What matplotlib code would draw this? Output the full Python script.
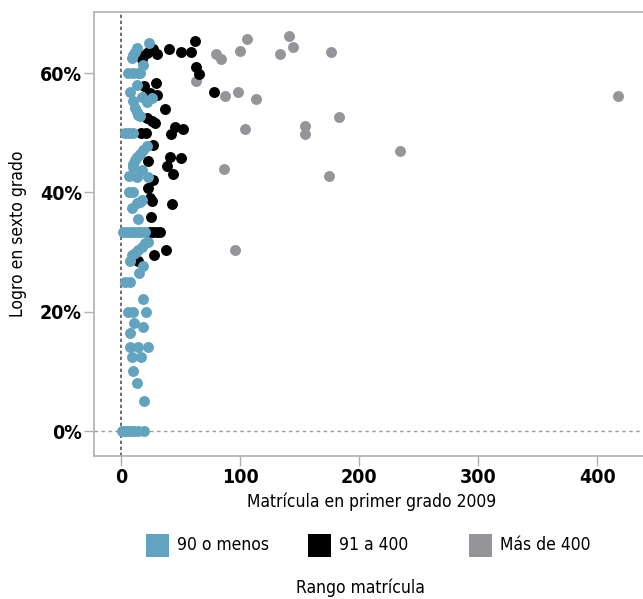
import matplotlib
matplotlib.use("Agg")
import matplotlib.pyplot as plt
from matplotlib.patches import Rectangle
from matplotlib.ticker import FuncFormatter

plt.rcParams['font.family'] = ['DejaVu Sans']
plt.rcParams['font.stretch'] = 'condensed'

# ---------------- data ----------------
categories = ["90 o menos", "91 a 400", "Más de 400"]
colors = ["#62A4BF", "#000000", "#939598"]

blue_x = [23.8, 13.7, 11.8, 10.3, 9.0, 18.8,
          6.2, 10.3, 14.5, 16.0,
          13.2, 7.6, 17.4, 25.8, 21.6, 9.8, 11.8, 13.2, 14.5, 16.0,
          3.4, 7.0, 10.3,
          21.6, 18.8, 16.0, 13.2, 11.8, 10.3, 9.8, 17.4,
          7.0, 13.7, 22.4,
          7.0, 10.3, 13.2, 17.4, 16.0, 9.0, 14.0,
          2.0, 5.0, 8.0, 11.0, 14.0, 17.0, 20.0,
          23.0, 20.2, 17.4, 14.5, 11.8, 9.0, 7.6, 18.8, 15.4,
          3.4, 7.6,
          18.2, 6.2, 10.3, 21.0, 11.2, 18.2, 7.6,
          7.6, 14.3, 22.4, 9.0, 17.1, 9.8, 13.2, 19.6,
          1.0, 3.0, 5.0, 7.0, 9.0, 11.0, 14.0, 19.6]
blue_y = [65.0, 64.2, 63.6, 63.0, 62.5, 61.4,
          60.0, 60.0, 60.0, 60.0,
          58.0, 56.9, 56.0, 55.8, 55.2, 55.3, 54.1, 53.5, 53.0, 52.8,
          50.0, 50.0, 50.0,
          47.7, 47.1, 46.5, 46.0, 45.4, 44.8, 44.3, 43.8,
          42.7, 42.5, 42.5,
          40.0, 40.0, 38.3, 38.7, 38.4, 37.3, 35.5,
          33.3, 33.3, 33.3, 33.3, 33.3, 33.3, 33.3,
          31.7, 31.5, 30.9, 30.3, 29.8, 29.5, 28.5, 27.7, 26.5,
          25.0, 25.0,
          22.1, 20.0, 20.0, 20.0, 18.1, 17.5, 16.4,
          14.0, 14.0, 14.0, 12.4, 12.4, 10.0, 8.0, 5.0,
          0.0, 0.0, 0.0, 0.0, 0.0, 0.0, 0.0, 0.0]

black_x = [61.9, 40.0, 50.7, 59.0, 30.5,
           26.5, 24.3, 21.5, 18.8, 17.4,
           62.7, 65.7, 29.1, 19.3, 30.5, 24.3, 22.6, 37.2, 78.3,
           21.5, 25.8, 28.8, 45.3, 52.3, 42.2, 16.8, 20.7,
           27.1, 22.4, 41.1, 50.6, 38.9, 43.9, 26.6, 22.4, 24.3, 25.8, 42.6,
           25.2, 24.0, 27.0, 30.0, 32.5, 37.5, 27.7, 14.0]
black_y = [65.4, 64.0, 63.6, 63.6, 63.2,
           64.0, 63.8, 63.4, 62.9, 62.4,
           61.0, 59.9, 58.3, 57.8, 56.4, 56.7, 56.2, 54.0, 56.9,
           52.4, 52.0, 51.6, 50.9, 50.6, 49.8, 50.0, 50.0,
           47.9, 45.3, 46.0, 45.7, 44.4, 43.1, 42.0, 40.7, 39.1, 38.6, 38.0,
           35.8, 33.3, 33.3, 33.3, 33.3, 30.3, 29.5, 28.5]

gray_x = [105.5, 140.8, 144.7, 133.5, 99.9, 79.5, 83.7, 63.0, 87.6, 98.5, 113.6,
          104.1, 176.0, 182.8, 154.2, 154.2, 86.2, 174.6, 95.7, 417.0, 234.5]
gray_y = [65.7, 66.2, 64.3, 63.2, 63.7, 63.2, 62.3, 58.6, 56.1, 56.9, 55.6,
          50.7, 63.5, 52.6, 51.2, 49.8, 43.9, 42.8, 30.3, 56.1, 46.9]

x_ticks = [0, 100, 200, 300, 400]
y_ticks = [0, 20, 40, 60]

# ---------------- figure ----------------
W, H = 643, 599
fig = plt.figure(figsize=(W / 100, H / 100), dpi=100)
ax = fig.add_axes([94 / W, 1 - 456 / H, (W - 94) / W + 0.01, (456 - 12) / H])

ax.axvline(0, color="#555555", lw=1.2, ls=(0, (2, 1.6)), zorder=1)
ax.axhline(0, color="#9a9a9a", lw=1.0, ls=(0, (2.5, 2.5)), zorder=1)

ms = 62
ax.scatter(gray_x, gray_y, s=ms, color=colors[2], linewidths=0, zorder=2)
ax.scatter(black_x, black_y, s=ms, color=colors[1], linewidths=0, zorder=3)
ax.scatter(blue_x, blue_y, s=ms, color=colors[0], linewidths=0, zorder=4)

ax.set_xlim(-22.7, 438.3 + 0.01 * W / 1.191)
ax.set_ylim(-4.19, 70.24)
ax.set_xticks(x_ticks)
ax.set_yticks(y_ticks)
ax.yaxis.set_major_formatter(FuncFormatter(lambda v, p: f"{int(v)}%"))
for lab in ax.get_xticklabels() + ax.get_yticklabels():
    lab.set_fontweight("bold")
    lab.set_fontsize(14)
ax.tick_params(axis="both", length=7, width=1, color="#b0b0b0", pad=1.8)
for s in ["left", "bottom", "top"]:
    ax.spines[s].set_color("#b0b0b0")
    ax.spines[s].set_linewidth(1.2)
ax.spines["right"].set_visible(False)

ax.set_xlabel("Matrícula en primer grado 2009", fontsize=12.5, labelpad=4)
ax.set_ylabel("Logro en sexto grado", fontsize=12.5, labelpad=9)

# legend (fixed-width columns)
sq = 23
starts = [146, 308, 469]
yc = 545
for st, lab, c in zip(starts, categories, colors):
    fig.patches.append(Rectangle((st / W, 1 - (yc + sq / 2) / H), sq / W, sq / H,
                                 transform=fig.transFigure, color=c, lw=0))
    fig.text((st + sq + 8) / W, 1 - yc / H, lab, fontsize=12.5, va="center", ha="left")
fig.text(360 / W, 1 - 588 / H, "Rango matrícula", fontsize=12.5, va="center", ha="center")

fig.savefig("out.png", dpi=100)
